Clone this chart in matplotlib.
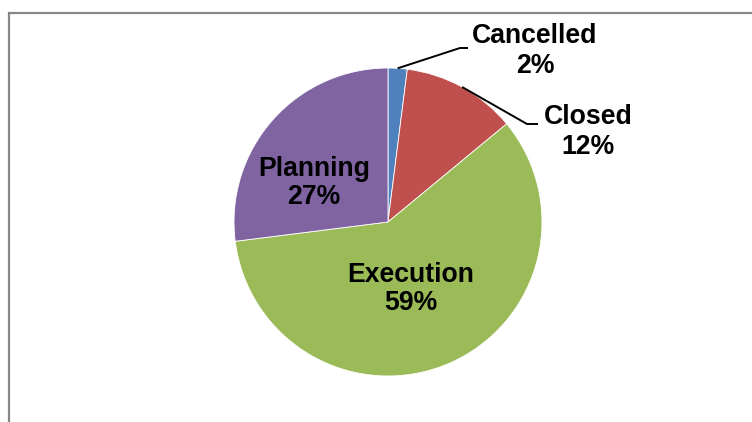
import numpy as np
import matplotlib
matplotlib.use("Agg")
import matplotlib.pyplot as plt
from matplotlib.patches import Rectangle

# datos del grafico
categorias = ["Cancelled", "Closed", "Execution", "Planning"]
porcentajes = [2, 12, 59, 27]
colores = ["#4F81BD", "#C0504D", "#9BBB59", "#8064A2"]

W, H = 752, 422
centro = (388, H - 222)
radio = 154

fig = plt.figure(figsize=(W / 100, H / 100), dpi=100)
ax = fig.add_axes([0, 0, 1, 1])
cunas, _ = ax.pie(porcentajes, colors=colores, startangle=90, counterclock=False,
                  center=centro, radius=radio,
                  wedgeprops=dict(edgecolor="white", linewidth=0.6))
ax.set_xlim(0, W)
ax.set_ylim(0, H)
ax.set_aspect("equal")
ax.axis("off")

# marco gris (se corta por la derecha y abajo)
ax.add_patch(Rectangle((9, -20), W + 20, H - 13 + 20, fill=False,
                       edgecolor="#878787", linewidth=1.6, clip_on=False))

fuente = dict(family="Liberation Sans", weight="bold", fontsize=19.2,
              ha="center", va="baseline", color="black")

# posiciones de las etiquetas (pixeles: x, baseline linea 1, baseline linea 2)
pos_etiquetas = {
    "Cancelled": (535, 43, 73),
    "Closed": (588, 124, 154),
    "Execution": (411, 282, 310),
    "Planning": (314, 176, 204),
}
for cat, p in zip(categorias, porcentajes):
    x, y1, y2 = pos_etiquetas[cat]
    ax.text(x, H - y1, cat, **fuente)
    ax.text(x, H - y2, "{}%".format(p), **fuente)

# lineas guia para las porciones chicas
codos = {"Cancelled": ((460, 48), (468, 48)), "Closed": ((527, 124), (538, 124))}
for cuna, cat in zip(cunas, categorias):
    if cat not in codos:
        continue
    ang = np.deg2rad((cuna.theta1 + cuna.theta2) / 2)
    x0 = centro[0] + radio * np.cos(ang)
    y0 = centro[1] + radio * np.sin(ang)
    (x1, y1), (x2, y2) = codos[cat]
    ax.plot([x0, x1, x2], [y0, H - y1, H - y2], color="black", linewidth=1.4,
            solid_capstyle="butt")

plt.savefig("out.png", dpi=100)
